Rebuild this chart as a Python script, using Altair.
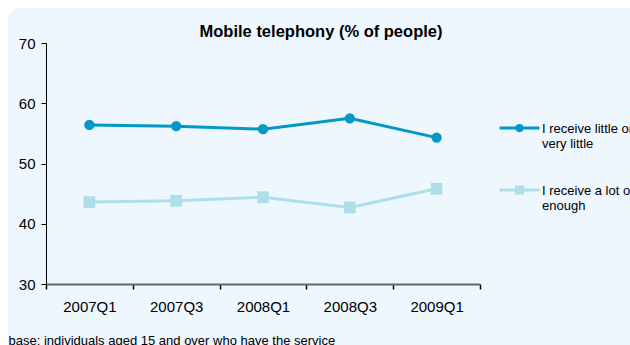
import altair as alt
import pandas as pd

periods = ["2007Q1", "2007Q3", "2008Q1", "2008Q3", "2009Q1"]
series_names = ["I receive little or very little", "I receive a lot or enough"]
little = [56.4, 56.2, 55.7, 57.5, 54.3]
alot = [43.6, 43.8, 44.4, 42.7, 45.8]
colors = ["#0498C6", "#AEDFE9"]
title_text = "Mobile telephony (% of people)"
footnote = "base: individuals aged 15 and over who have the service"

rows = []
for name, vals in zip(series_names, [little, alot]):
    for p, v in zip(periods, vals):
        rows.append({"period": p, "series": name, "value": v})
df = pd.DataFrame(rows)

FONT = "Liberation Sans"
W, H = 434, 241

x = alt.X(
    "period:N", sort=periods, bandPosition=0.5,
    scale=alt.Scale(type="band", paddingInner=0, paddingOuter=0),
    axis=alt.Axis(
        title=footnote, titleX=-38, titleY=60, titleAlign="left", titleAnchor="start",
        titleBaseline="alphabetic", titleFontSize=13, titleFontWeight="normal", titleColor="#000",
        labelAngle=0, labelFontSize=15, labelPadding=10, labelColor="#000",
        tickBand="extent", tickSize=5, tickColor="#000", tickWidth=1.5,
        domainColor="#666", domainWidth=2, grid=False, zindex=1,
    ),
)
y = alt.Y(
    "value:Q",
    scale=alt.Scale(domain=[30, 70], nice=False, zero=False),
    axis=alt.Axis(
        values=[30, 40, 50, 60, 70], title=None, grid=False, tickSize=5, labelPadding=6,
        labelFontSize=15, labelColor="#000", domainColor="#000", tickColor="#000", zindex=1,
    ),
)
color = alt.Color("series:N", scale=alt.Scale(domain=series_names, range=colors), legend=None)

base = alt.Chart(df)

bg = alt.Chart(pd.DataFrame({"a": [0]})).mark_rect(
    cornerRadius=12, color="#EEF6FE"
).encode(x=alt.value(-38), x2=alt.value(700), y=alt.value(-35), y2=alt.value(400))

s = 0.28
circle_path = f"M-1,{s}H1M-0.13,{s}A0.13,0.13,0,1,0,0.13,{s}A0.13,0.13,0,1,0,-0.13,{s}Z"
square_path = f"M-1,{s}H1M-0.15,{s-0.15}H0.15V{s+0.15}H-0.15Z"

leg = alt.Legend(
    title=None, orient="none", legendX=452, legendY=58, padding=0, zindex=2,
    symbolSize=1600, symbolStrokeWidth=3, symbolOpacity=1,
    labelFontSize=13, labelColor="#000", labelBaseline="top", labelOffset=1,
    labelLimit=400, rowPadding=12,
    labelExpr="split(replace(datum.label, ' or ', ' or|'), '|')",
)
legend_layer = base.transform_filter(alt.datum.period == periods[0]).mark_point(
    filled=True, size=1
).encode(
    x=x, y=y,
    shape=alt.Shape("series:N", scale=alt.Scale(domain=series_names, range=[circle_path, square_path]), legend=leg),
    fill=alt.Fill("series:N", scale=alt.Scale(domain=series_names, range=colors), legend=leg),
    stroke=alt.Stroke("series:N", scale=alt.Scale(domain=series_names, range=colors), legend=leg),
)

lines = base.mark_line(strokeWidth=3).encode(x=x, y=y, color=color)
pts1 = base.transform_filter(alt.datum.series == series_names[0]).mark_point(
    shape="circle", filled=True, size=106, opacity=1
).encode(x=x, y=y, color=color)
pts2 = base.transform_filter(alt.datum.series == series_names[1]).mark_point(
    shape="square", filled=True, size=137, opacity=1
).encode(x=x, y=y, color=color)

chart = alt.layer(bg, legend_layer, lines, pts1, pts2).properties(
    width=W, height=H,
    title=alt.TitleParams(title_text, fontSize=16.5, fontWeight="bold", dx=58, dy=50, anchor="middle",
                          color="#000", frame="group", offset=5, baseline="alphabetic", zindex=2),
    autosize=alt.AutoSizeParams(type="none"),
    padding={"left": 46, "top": 43, "right": 150, "bottom": 61},
    background="white",
).configure(font=FONT).configure_view(stroke=None)

chart.save("out.html", embed_options={"renderer": "svg", "actions": False})
